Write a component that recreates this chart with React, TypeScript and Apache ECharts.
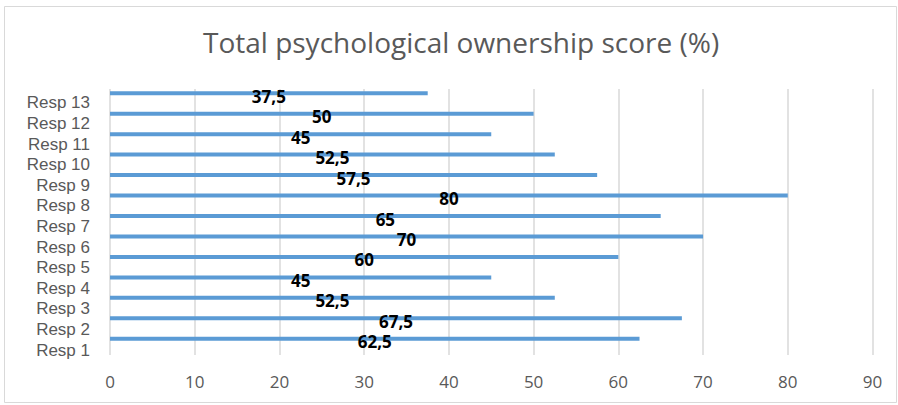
import React, { useEffect, useRef } from "react";
import * as echarts from "echarts";

const categories = ["Resp 1", "Resp 2", "Resp 3", "Resp 4", "Resp 5", "Resp 6", "Resp 7", "Resp 8", "Resp 9", "Resp 10", "Resp 11", "Resp 12", "Resp 13"];
const scores = [62.5, 67.5, 52.5, 45, 60, 70, 65, 80, 57.5, 52.5, 45, 50, 37.5];
const dummy = categories.map(() => 0);
const titleText = "Total psychological ownership score (%)";

export default function App() {
  const ref = useRef<HTMLDivElement>(null);
  useEffect(() => {
    document.body.style.margin = "0";
    if (!ref.current) return;
    const chart = echarts.init(ref.current, null, { renderer: "svg" });
    chart.setOption({
      animation: false,
      backgroundColor: "#ffffff",
      title: {
        text: titleText,
        left: 198,
        top: 23,
        textStyle: { fontFamily: "Open Sans", fontSize: 28, fontWeight: "normal", color: "#595959" },
      },
      graphic: [
        {
          type: "rect",
          shape: { x: 4.5, y: 6.5, width: 892, height: 396 },
          style: { fill: "none", stroke: "#d9d9d9", lineWidth: 1 },
          silent: true,
        },
      ],
      grid: [
        { left: 110, right: 25.5, top: 89, bottom: 50 },
        { left: 110, right: 25.5, top: 92.7, bottom: 44.7 },
      ],
      xAxis: [
        {
          type: "value",
          gridIndex: 0,
          min: 0,
          max: 90,
          interval: 10,
          axisLine: { show: false },
          axisTick: { show: false },
          splitLine: { lineStyle: { color: "#d9d9d9", width: 1.5 } },
          axisLabel: { color: "#595959", fontFamily: "Open Sans", fontSize: 17, margin: 18 },
        },
        {
          type: "value",
          gridIndex: 1,
          min: 0,
          max: 90,
          show: false,
        },
      ],
      yAxis: [
        {
          type: "category",
          gridIndex: 0,
          data: categories,
          axisLine: { show: false },
          axisTick: { show: false },
          axisLabel: { show: false },
        },
        {
          type: "category",
          gridIndex: 1,
          data: categories,
          axisLine: { show: false },
          axisTick: { show: false },
          splitLine: { show: false },
          axisLabel: {
            interval: 0,
            color: "#595959",
            fontFamily: "Liberation Sans",
            fontSize: 17,
            lineHeight: 18,
            margin: 20,
          },
        },
      ],
      series: [
        {
          type: "bar",
          xAxisIndex: 0,
          yAxisIndex: 0,
          data: scores,
          barWidth: 4,
          barGap: "200%",
          itemStyle: { color: "#5b9bd5" },
          label: {
            show: true,
            position: "inside",
            offset: [0, 3],
            color: "#000000",
            fontFamily: "Open Sans",
            fontWeight: "bold",
            fontSize: 17,
            formatter: (p: any) => String(p.value).replace(".", ","),
          },
        },
        {
          type: "bar",
          xAxisIndex: 0,
          yAxisIndex: 0,
          data: dummy,
          barWidth: 4,
          itemStyle: { color: "transparent" },
          silent: true,
        },
      ],
    });
    return () => chart.dispose();
  }, []);
  return <div ref={ref} style={{ width: 898, height: 405 }} />;
}
